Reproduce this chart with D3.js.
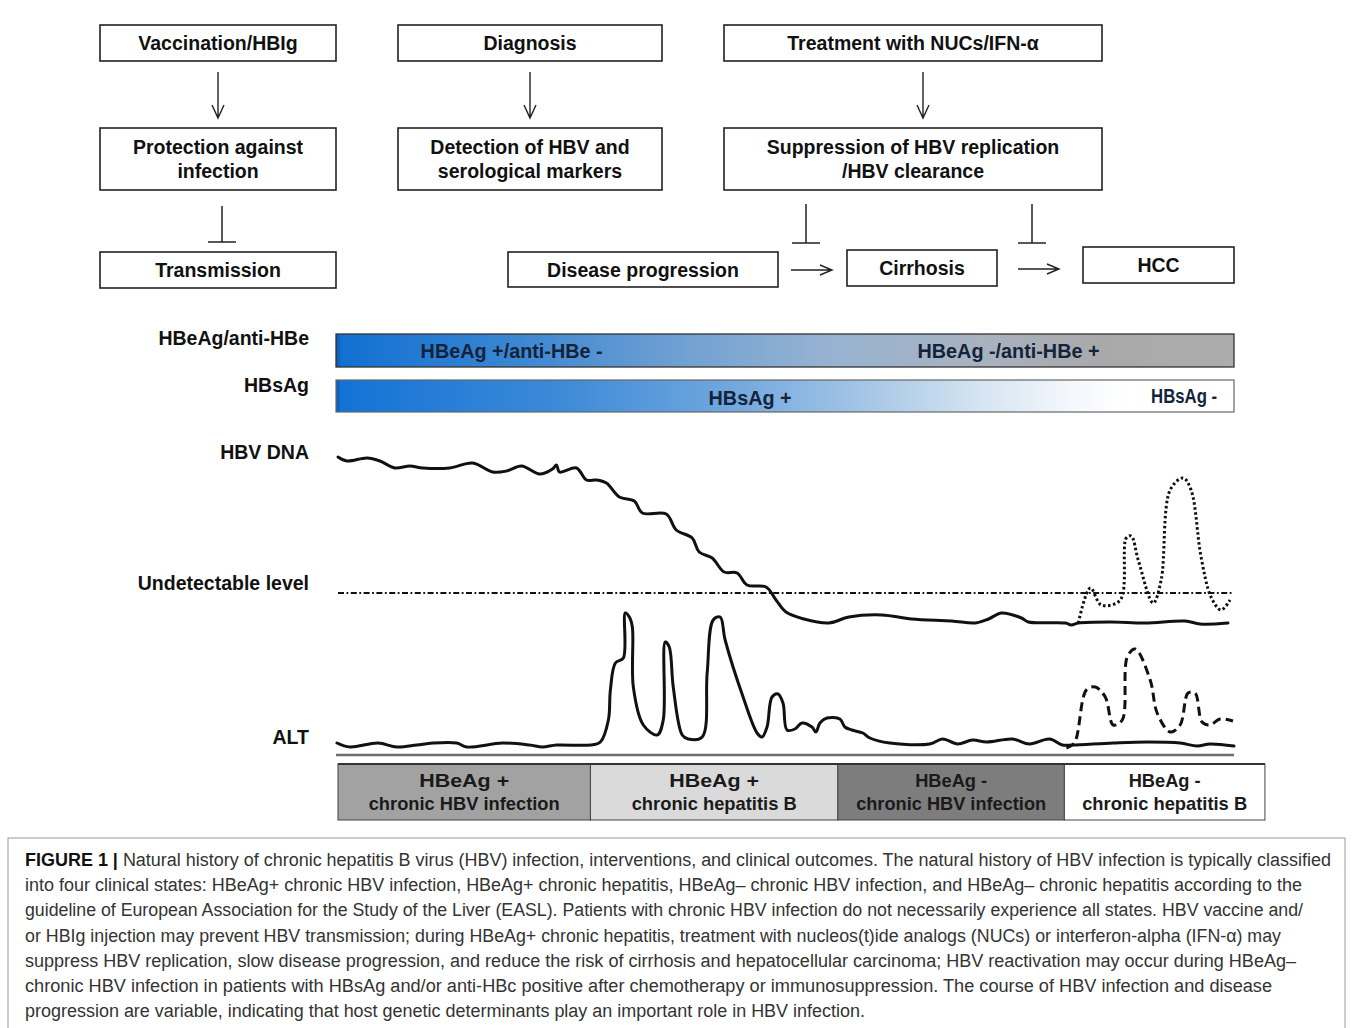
<!DOCTYPE html>
<html>
<head>
<meta charset="utf-8">
<script src="https://cdn.jsdelivr.net/npm/d3@7/dist/d3.min.js"></script>
<style>
  html, body { margin: 0; padding: 0; background: #fff; }
  svg { display: block; }
</style>
</head>
<body>
<div id="chart"></div>
<script>
// ---- data ---------------------------------------------------------------
// time axis: arbitrary units 0..90, level axis: arbitrary units 0..32

var hbvDnaT = [0.2, 1.1, 3.1, 4.4, 5.9, 7.4, 8.7, 11.4, 13.7, 15.7, 17.1, 18.6, 20.4, 21.7, 22.1, 22.4, 24.1,
    25.1, 26.1, 27.1, 28.4, 29.9, 30.7, 33.1, 34.1, 35.7, 36.4, 37.7, 38.9, 40.2, 41.2, 43.1, 44.1, 45.1,
    46.9, 49.4, 51.4, 54.7, 57.7, 61.7, 64.1, 65.4, 66.7, 68.7, 69.4, 73.1, 73.7, 74.4, 77.7, 81.1, 85.1,
    86.6, 89.4];
var hbvDnaLevel = [30.3, 29.9, 30.2, 29.9, 29.2, 29.4, 29.2, 29.2, 29.7, 28.8, 28.9, 29.4, 28.6, 29.1, 29.5, 28.8, 29.2,
    28.0, 28.0, 27.7, 26.3, 25.9, 24.7, 24.6, 23.0, 22.2, 20.8, 20.2, 18.8, 18.7, 17.5, 17.3, 16.0, 14.8,
    14.1, 13.7, 14.3, 14.5, 14.1, 13.9, 13.7, 14.1, 14.7, 14.2, 13.8, 13.7, 13.5, 13.7, 13.8, 13.7, 13.9,
    13.6, 13.7];

// HBV reactivation (dotted)
var reactDnaT = [74.4, 75.6, 76.7, 78.6, 79.2, 79.7, 80.4, 81.9, 82.7, 83.6, 84.9, 85.7, 86.7, 87.7, 88.7, 89.6];
var reactDnaLevel = [13.7, 17.2, 15.5, 16.0, 22.2, 22.4, 20.0, 15.7, 18.0, 27.0, 28.2, 27.0, 20.3, 16.3, 15.0, 16.0];

var undetectableLevel = 16.7;

var altT = [0.1, 1.4, 4.2, 6.1, 8.1, 9.7, 12.1, 13.1, 16.7, 19.4, 20.7, 22.1, 25.5, 26.5, 27.3, 27.5, 28.0, 28.8,
    29.0, 29.4, 29.7, 29.8, 30.8, 32.2, 32.8, 33.0, 33.4, 33.8, 34.7, 35.3, 36.7, 37.2, 37.8, 38.5, 39.0,
    40.8, 42.2, 42.7, 43.2, 43.7, 44.3, 44.8, 45.2, 46.0, 46.7, 47.7, 48.1, 48.5, 49.2, 50.5, 51.0, 51.7,
    52.8, 53.5, 55.5, 59.5, 60.8, 62.3, 63.8, 65.2, 67.8, 69.5, 71.5, 72.8, 73.8, 77.9, 81.3, 84.6, 86.3,
    87.6, 90.0];
var altLevel = [1.7, 1.3, 1.7, 1.3, 1.5, 1.7, 1.7, 1.3, 1.7, 1.5, 1.3, 1.5, 1.5, 1.8, 4.0, 7.0, 9.7, 10.2,
    14.7, 14.3, 13.3, 7.3, 3.5, 2.5, 4.0, 11.8, 11.3, 7.3, 2.5, 2.1, 2.3, 8.7, 14.0, 14.3, 12.0,
    6.3, 2.7, 2.3, 3.3, 6.3, 6.6, 5.7, 3.0, 3.1, 3.7, 3.3, 2.8, 3.7, 4.2, 4.1, 3.3, 3.0,
    2.7, 2.2, 1.7, 1.6, 2.1, 1.6, 2.0, 1.8, 2.1, 1.6, 2.1, 1.5, 1.5, 1.7, 1.8, 1.7, 1.4,
    1.6, 1.4];

// ALT flare on reactivation (dashed)
var reactAltT = [73.2, 74.0, 75.2, 76.1, 77.1, 77.9, 78.8, 79.3, 80.1, 81.6, 82.3, 83.6, 84.6, 85.4, 86.1, 86.8, 87.6, 88.6, 89.9];
var reactAltLevel = [1.2, 1.7, 7.0, 7.3, 6.3, 3.5, 4.0, 10.3, 11.1, 8.0, 4.7, 2.8, 3.5, 6.7, 6.7, 3.8, 3.5, 4.1, 3.9];

var rowLabels = ['HBeAg/anti-HBe', 'HBsAg', 'HBV DNA', 'Undetectable level', 'ALT'];
var eBarLabels = ['HBeAg +/anti-HBe -', 'HBeAg -/anti-HBe +'];
var eBarLabelT = [17.6, 67.4];
var sBarLabels = ['HBsAg +', 'HBsAg -'];
var sBarLabelT = [41.5, 85.0];

var phaseEdges = [0.2, 25.5, 50.3, 73.0, 93.1];
var phaseLine1 = ['HBeAg +', 'HBeAg +', 'HBeAg -', 'HBeAg -'];
var phaseLine2 = ['chronic HBV infection', 'chronic hepatitis B', 'chronic HBV infection', 'chronic hepatitis B'];

var flowTop = ['Vaccination/HBIg', 'Diagnosis', 'Treatment with NUCs/IFN-\u03b1'];
var flowMid = [['Protection against', 'infection'], ['Detection of HBV and', 'serological markers'],
    ['Suppression of HBV replication', '/HBV clearance']];
var flowOutcome = ['Transmission', 'Disease progression', 'Cirrhosis', 'HCC'];

var captionLines = [
    'Natural history of chronic hepatitis B virus (HBV) infection, interventions, and clinical outcomes. The natural history of HBV infection is typically classified',
    'into four clinical states: HBeAg+ chronic HBV infection, HBeAg+ chronic hepatitis, HBeAg\u2013 chronic HBV infection, and HBeAg\u2013 chronic hepatitis according to the',
    'guideline of European Association for the Study of the Liver (EASL). Patients with chronic HBV infection do not necessarily experience all states. HBV vaccine and/',
    'or HBIg injection may prevent HBV transmission; during HBeAg+ chronic hepatitis, treatment with nucleos(t)ide analogs (NUCs) or interferon-alpha (IFN-\u03b1) may',
    'suppress HBV replication, slow disease progression, and reduce the risk of cirrhosis and hepatocellular carcinoma; HBV reactivation may occur during HBeAg\u2013',
    'chronic HBV infection in patients with HBsAg and/or anti-HBc positive after chemotherapy or immunosuppression. The course of HBV infection and disease',
    'progression are variable, indicating that host genetic determinants play an important role in HBV infection.'
];

// ---- layout -------------------------------------------------------------
var W = 1355, H = 1028;
var BOLD = '"Liberation Sans", Arial, sans-serif';
var NARROW = '"Liberation Sans Narrow", "Liberation Sans", Arial, sans-serif';

var svg = d3.select('#chart').append('svg')
    .attr('width', W).attr('height', H)
    .attr('viewBox', '0 0 ' + W + ' ' + H);

var x = d3.scaleLinear().domain([0, 90]).range([336, 1234]);
var y = d3.scaleLinear().domain([0, 32]).range([760, 440]);

function zip(a, b) {
    return a.map(function (v, i) { return [v, b[i]]; });
}

// ---- flowchart ----------------------------------------------------------
var fc = svg.append('g').attr('class', 'flow');

function box(x0, y0, w, h, lines, fs) {
    fc.append('rect').attr('x', x0).attr('y', y0).attr('width', w).attr('height', h)
        .attr('fill', '#fff').attr('stroke', '#222').attr('stroke-width', 1.6);
    var cy = y0 + h / 2;
    var lh = 24;
    lines.forEach(function (t, i) {
        fc.append('text')
            .attr('x', x0 + w / 2)
            .attr('y', cy + (i - (lines.length - 1) / 2) * lh)
            .attr('dy', '0.36em')
            .attr('text-anchor', 'middle')
            .attr('font-family', BOLD).attr('font-weight', 'bold')
            .attr('font-size', fs || 19.5).attr('fill', '#111')
            .text(t);
    });
}

function downArrow(cx, y0, y1) {
    fc.append('path')
        .attr('d', 'M' + cx + ',' + y0 + 'V' + y1 + 'M' + (cx - 6) + ',' + (y1 - 13) + 'L' + cx + ',' + y1 + 'L' + (cx + 6) + ',' + (y1 - 13))
        .attr('fill', 'none').attr('stroke', '#222').attr('stroke-width', 1.4);
}

function rightArrow(x0, x1, cy) {
    fc.append('path')
        .attr('d', 'M' + x0 + ',' + cy + 'H' + x1 + 'M' + (x1 - 12) + ',' + (cy - 5) + 'L' + x1 + ',' + cy + 'L' + (x1 - 12) + ',' + (cy + 5))
        .attr('fill', 'none').attr('stroke', '#222').attr('stroke-width', 1.4);
}

function inhibit(cx, y0, y1, half) {
    fc.append('path')
        .attr('d', 'M' + cx + ',' + y0 + 'V' + y1 + 'M' + (cx - half) + ',' + y1 + 'H' + (cx + half))
        .attr('fill', 'none').attr('stroke', '#222').attr('stroke-width', 1.5);
}

var colX = [100, 398, 724];
var colW = [236, 264, 378];
flowTop.forEach(function (t, i) { box(colX[i], 25, colW[i], 36, [t]); });
flowMid.forEach(function (t, i) { box(colX[i], 128, colW[i], 62, t); });
[218, 530, 923].forEach(function (cx) { downArrow(cx, 72, 118); });

box(100, 252, 236, 36, [flowOutcome[0]]);
box(508, 252, 270, 35, [flowOutcome[1]]);
box(847, 250, 150, 36, [flowOutcome[2]]);
box(1083, 247, 151, 36, [flowOutcome[3]]);

inhibit(222, 206, 242, 14);
inhibit(806, 204, 243, 14);
inhibit(1032, 204, 243, 14);
rightArrow(791, 832, 270);
rightArrow(1018, 1059, 269);

// ---- row labels ---------------------------------------------------------
var labelY = [338, 385, 452, 583, 737];
svg.append('g').selectAll('text').data(rowLabels).join('text')
    .attr('x', 309)
    .attr('y', function (d, i) { return labelY[i]; })
    .attr('dy', '0.36em')
    .attr('text-anchor', 'end')
    .attr('font-family', BOLD).attr('font-weight', 'bold').attr('font-size', 19.5)
    .attr('fill', '#111')
    .text(function (d) { return d; });

// ---- serology gradient bars ---------------------------------------------
var defs = svg.append('defs');
function gradient(id, stops) {
    var g = defs.append('linearGradient').attr('id', id)
        .attr('x1', '0%').attr('x2', '100%').attr('y1', '0%').attr('y2', '0%');
    stops.forEach(function (s) {
        g.append('stop').attr('offset', s[0]).attr('stop-color', s[1]);
    });
}
gradient('gE', [['0%', '#0b58b0'], ['0.6%', '#1170d2'], ['20%', '#3b86d2'], ['40%', '#74a2d2'],
    ['55%', '#97b3d2'], ['72%', '#a8b2bf'], ['85%', '#a9a9aa'], ['100%', '#acacac']]);
gradient('gS', [['0%', '#0b58b0'], ['0.6%', '#1373d6'], ['25%', '#3d8ad8'], ['45%', '#74a9de'],
    ['60%', '#a9c8e6'], ['72%', '#d6e5f2'], ['82%', '#f4f8fc'], ['88%', '#ffffff'], ['100%', '#ffffff']]);

var bars = svg.append('g').attr('class', 'serology');
bars.append('rect').attr('x', x(0)).attr('y', 334).attr('width', x(90) - x(0)).attr('height', 33)
    .attr('fill', 'url(#gE)').attr('stroke', '#333').attr('stroke-width', 1.3);
bars.append('rect').attr('x', x(0)).attr('y', 380).attr('width', x(90) - x(0)).attr('height', 32)
    .attr('fill', 'url(#gS)').attr('stroke', '#666').attr('stroke-width', 1.2);

bars.selectAll('text.e').data(eBarLabels).join('text').attr('class', 'e')
    .attr('x', function (d, i) { return x(eBarLabelT[i]); })
    .attr('y', 351).attr('dy', '0.36em').attr('text-anchor', 'middle')
    .attr('font-family', NARROW).attr('font-weight', 'bold').attr('font-size', 20)
    .attr('fill', '#14233a')
    .attr('textLength', 182).attr('lengthAdjust', 'spacingAndGlyphs')
    .text(function (d) { return d; });

var sWidths = [83, 66];
bars.selectAll('text.s').data(sBarLabels).join('text').attr('class', 's')
    .attr('x', function (d, i) { return x(sBarLabelT[i]); })
    .attr('y', function (d, i) { return i ? 396 : 398; }).attr('dy', '0.36em').attr('text-anchor', 'middle')
    .attr('font-family', NARROW).attr('font-weight', 'bold').attr('font-size', 20)
    .attr('fill', '#14233a')
    .attr('textLength', function (d, i) { return sWidths[i]; }).attr('lengthAdjust', 'spacingAndGlyphs')
    .text(function (d) { return d; });

// ---- curves -------------------------------------------------------------
var line = d3.line()
    .x(function (d) { return x(d[0]); })
    .y(function (d) { return y(d[1]); })
    .curve(d3.curveCatmullRom.alpha(0.5));

var curves = svg.append('g').attr('class', 'curves')
    .attr('fill', 'none').attr('stroke', '#111').attr('stroke-linejoin', 'round').attr('stroke-linecap', 'round');

curves.append('line')
    .attr('x1', x(0.2)).attr('x2', x(89.8))
    .attr('y1', y(undetectableLevel)).attr('y2', y(undetectableLevel))
    .attr('stroke-width', 1.8).attr('stroke-linecap', 'butt')
    .attr('stroke-dasharray', '6,2.5,1.8,2.5');

curves.append('path').attr('d', line(zip(hbvDnaT, hbvDnaLevel))).attr('stroke-width', 3);
curves.append('path').attr('d', line(zip(reactDnaT, reactDnaLevel)))
    .attr('stroke-width', 3).attr('stroke-linecap', 'butt').attr('stroke-dasharray', '2.5,2.5');
curves.append('path').attr('d', line(zip(altT, altLevel))).attr('stroke-width', 3);
curves.append('path').attr('d', line(zip(reactAltT, reactAltLevel)))
    .attr('stroke-width', 3).attr('stroke-linecap', 'butt').attr('stroke-dasharray', '9,5');

// baseline under the curves
svg.append('line')
    .attr('x1', x(0)).attr('x2', x(90))
    .attr('y1', y(0.5)).attr('y2', y(0.5))
    .attr('stroke', '#6e6e6e').attr('stroke-width', 2.5);

// ---- clinical phases ----------------------------------------------------
var phaseFill = ['#a2a2a2', '#dadada', '#7d7d7d', '#ffffff'];
var phaseW1 = [90, 90, 72, 72];
var phaseW2 = [191, 165, 190, 165];
var ph = svg.append('g').attr('class', 'phases');
var pTop = 764, pH = 56;

ph.selectAll('rect').data(phaseLine1).join('rect')
    .attr('x', function (d, i) { return x(phaseEdges[i]); })
    .attr('y', pTop)
    .attr('width', function (d, i) { return x(phaseEdges[i + 1]) - x(phaseEdges[i]); })
    .attr('height', pH)
    .attr('fill', function (d, i) { return phaseFill[i]; })
    .attr('stroke', '#444').attr('stroke-width', 1);

ph.append('line').attr('x1', x(phaseEdges[0])).attr('x2', x(phaseEdges[4]))
    .attr('y1', pTop).attr('y2', pTop).attr('stroke', '#333').attr('stroke-width', 2);

ph.selectAll('text.l1').data(phaseLine1).join('text').attr('class', 'l1')
    .attr('x', function (d, i) { return (x(phaseEdges[i]) + x(phaseEdges[i + 1])) / 2; })
    .attr('y', 780).attr('dy', '0.36em').attr('text-anchor', 'middle')
    .attr('font-family', NARROW).attr('font-weight', 'bold').attr('font-size', 19).attr('fill', '#1a1a1a')
    .attr('textLength', function (d, i) { return phaseW1[i]; }).attr('lengthAdjust', 'spacingAndGlyphs')
    .text(function (d) { return d; });

ph.selectAll('text.l2').data(phaseLine2).join('text').attr('class', 'l2')
    .attr('x', function (d, i) { return (x(phaseEdges[i]) + x(phaseEdges[i + 1])) / 2; })
    .attr('y', 803).attr('dy', '0.36em').attr('text-anchor', 'middle')
    .attr('font-family', NARROW).attr('font-weight', 'bold').attr('font-size', 19).attr('fill', '#1a1a1a')
    .attr('textLength', function (d, i) { return phaseW2[i]; }).attr('lengthAdjust', 'spacingAndGlyphs')
    .text(function (d) { return d; });

// ---- caption ------------------------------------------------------------
svg.append('rect').attr('x', 8).attr('y', 838).attr('width', 1337).attr('height', 220)
    .attr('fill', 'none').attr('stroke', '#9a9a9a').attr('stroke-width', 1);

var capEnds = [1331, 1302, 1303, 1281, 1296, 1272, 865];
var cap = svg.append('g').attr('class', 'caption');
captionLines.forEach(function (t, i) {
    var tx = cap.append('text')
        .attr('x', 25).attr('y', 866 + i * 25.2)
        .attr('font-family', NARROW).attr('font-size', 18).attr('fill', '#333')
        .attr('textLength', capEnds[i] - 25).attr('lengthAdjust', 'spacingAndGlyphs');
    if (i === 0) {
        tx.append('tspan').attr('font-weight', 'bold').attr('fill', '#111').text('FIGURE 1 | ');
    }
    tx.append('tspan').text(t);
});
</script>
</body>
</html>
